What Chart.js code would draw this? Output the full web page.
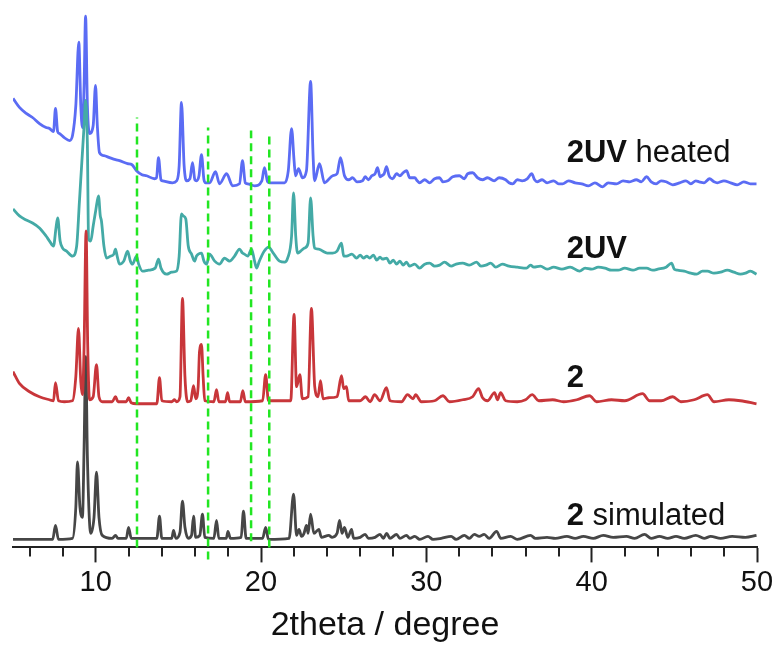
<!DOCTYPE html>
<html>
<head>
<meta charset="utf-8">
<script src="https://cdn.jsdelivr.net/npm/chart.js@4.4.0/dist/chart.umd.min.js"></script>
<style>
  html, body { margin: 0; padding: 0; background: #fff; }
  #wrap { width: 777px; height: 646px; }
</style>
</head>
<body>
<div id="wrap"><canvas id="xrd"></canvas></div>
<script>
// 2theta (degree) vs intensity (offset, arbitrary units)
const heated = [[5.0,447],[5.39,438],[5.8,432],[6.18,428],[6.6,422],[7.0,418],[7.21,417],[7.45,414],[7.57,437],[7.7,414],[7.81,412],[8.1,408],[8.42,405],[8.6,410],[8.8,440],[8.98,503],[9.1,440],[9.2,418],[9.3,460],[9.39,529],[9.5,440],[9.63,412],[9.85,420],[9.99,460],[10.1,420],[10.23,393],[10.5,390],[10.84,388],[11.2,386],[11.44,385],[11.93,382],[12.2,381],[12.47,375],[12.8,371],[13.08,370],[13.56,367],[13.68,368],[13.8,388],[13.95,366],[14.04,365],[14.65,363],[14.9,365],[15.05,380],[15.19,443],[15.35,380],[15.5,365],[15.7,367],[15.86,383],[16.0,366],[16.1,365],[16.25,370],[16.4,391],[16.55,366],[16.65,363],[16.89,363],[17.25,374],[17.49,362],[17.92,372],[18.28,360],[18.7,362],[18.88,385],[19.05,363],[19.19,362],[19.61,360],[20.05,365],[20.21,378],[20.4,364],[20.52,363],[21.12,363],[21.43,363],[21.65,375],[21.85,417],[22.0,385],[22.09,370],[22.27,377],[22.51,368],[22.75,375],[23.0,464],[23.15,390],[23.24,365],[23.54,382],[23.84,363],[24.33,370],[24.6,372],[24.81,388],[25.05,370],[25.3,366],[25.54,368],[25.8,364],[26.14,365],[26.3,369],[26.5,366],[26.7,370],[26.9,372],[27.05,378],[27.2,369],[27.3,370],[27.45,372],[27.59,379],[27.75,370],[27.96,367],[28.2,372],[28.4,370],[28.6,373],[28.8,375],[29.0,368],[29.3,368],[29.45,365],[29.59,363],[29.9,366],[30.2,363],[30.5,367],[30.8,368],[31.0,364],[31.3,365],[31.6,369],[32.0,370],[32.3,367],[32.5,372],[32.8,373],[33.1,368],[33.4,366],[33.7,368],[34.1,365],[34.4,368],[34.8,366],[35.0,363],[35.22,362],[35.5,366],[35.8,365],[36.1,367],[36.37,372],[36.55,366],[36.7,364],[37.0,366],[37.3,363],[37.7,365],[38.0,362],[38.24,362],[38.6,365],[39.0,363],[39.4,362],[39.8,360],[40.2,363],[40.66,359],[41.0,363],[41.5,362],[41.9,365],[42.3,364],[42.7,366],[43.0,364],[43.32,369],[43.6,364],[43.9,362],[44.2,365],[44.5,364],[44.9,361],[45.32,363],[45.7,365],[46.0,362],[46.3,365],[46.5,364],[46.8,363],[47.13,367],[47.4,364],[47.6,363],[48.0,365],[48.4,363],[48.8,361],[49.2,364],[49.6,362],[49.97,362]];

const uv = [[5.0,337],[5.39,330],[5.8,326],[6.18,323],[6.6,318],[7.0,310],[7.21,305],[7.45,300],[7.6,318],[7.7,328],[7.85,305],[8.0,298],[8.24,295],[8.6,290],[8.85,300],[9.02,345],[9.15,380],[9.3,420],[9.39,445],[9.5,400],[9.57,307],[9.7,305],[9.85,320],[10.0,335],[10.17,350],[10.28,330],[10.35,325],[10.5,300],[10.66,288],[10.9,290],[11.1,292],[11.2,297],[11.3,290],[11.44,282],[11.7,285],[11.93,295],[12.1,285],[12.23,282],[12.47,290],[12.6,282],[12.83,275],[13.2,276],[13.6,278],[13.8,287],[13.95,278],[14.29,272],[14.6,274],[14.89,275],[15.05,290],[15.19,332],[15.3,330],[15.45,327],[15.6,300],[15.8,292],[15.98,285],[16.1,290],[16.4,293],[16.55,285],[16.71,282],[16.89,292],[17.2,285],[17.49,282],[17.79,288],[18.1,285],[18.4,290],[18.7,297],[18.88,293],[19.0,292],[19.2,290],[19.43,297],[19.61,285],[19.73,278],[19.9,285],[20.2,295],[20.46,299],[20.7,294],[21.12,285],[21.43,284],[21.61,288],[21.85,310],[21.97,353],[22.1,310],[22.21,293],[22.4,295],[22.63,298],[22.85,303],[23.0,348],[23.15,310],[23.24,298],[23.5,297],[23.72,295],[24.0,293],[24.33,293],[24.6,295],[24.87,303],[25.0,290],[25.17,290],[25.5,292],[25.78,288],[26.0,291],[26.2,288],[26.4,290],[26.57,288],[26.8,291],[27.0,286],[27.2,289],[27.35,287],[27.6,288],[27.8,283],[28.0,286],[28.2,282],[28.4,285],[28.6,281],[28.8,284],[28.98,280],[29.3,282],[29.59,278],[29.9,282],[30.2,283],[30.5,280],[30.8,281],[31.1,284],[31.5,280],[31.8,282],[32.2,283],[32.6,281],[33.04,284],[33.3,280],[33.6,281],[33.9,283],[34.2,279],[34.6,282],[35.0,280],[35.5,279],[36.06,278],[36.3,281],[36.5,279],[36.9,280],[37.3,277],[37.7,279],[38.2,277],[38.7,279],[39.27,275],[39.6,278],[40.0,277],[40.4,279],[40.8,278],[41.2,276],[41.6,276],[42.0,278],[42.5,276],[42.9,278],[43.32,278],[43.7,276],[44.0,277],[44.5,279],[44.83,283],[45.0,277],[45.2,276],[45.6,275],[46.0,273],[46.35,272],[46.7,275],[47.0,275],[47.4,273],[47.8,274],[48.2,276],[48.6,274],[49.0,272],[49.3,273],[49.6,275],[49.97,272]];

const sample = [[5.0,175],[5.4,163],[6.0,155],[6.6,150],[7.2,147],[7.45,146],[7.57,164],[7.75,146],[8.1,145],[8.6,146],[8.8,170],[8.96,218],[9.1,165],[9.2,152],[9.3,200],[9.42,315],[9.52,200],[9.63,147],[9.85,150],[10.05,182],[10.2,150],[10.41,145],[11.0,145],[11.2,150],[11.35,145],[11.85,145],[11.99,149],[12.15,144],[12.47,143],[13.7,143],[13.86,169],[14.0,146],[14.6,145],[14.77,147],[14.9,145],[15.1,150],[15.25,248],[15.4,170],[15.56,145],[15.75,146],[15.92,161],[16.05,148],[16.2,160],[16.28,195],[16.4,202],[16.5,170],[16.6,146],[17.15,145],[17.31,157],[17.45,145],[17.85,145],[17.98,154],[18.1,145],[18.75,145],[18.9,156],[19.05,145],[20.1,146],[20.28,172],[20.45,146],[21.8,146],[22.0,232],[22.15,160],[22.35,172],[22.5,148],[22.85,150],[23.05,238],[23.25,160],[23.45,150],[23.6,166],[23.75,148],[24.09,149],[24.6,150],[24.87,171],[25.0,158],[25.17,160],[25.3,146],[26.0,146],[26.32,150],[26.6,145],[26.87,152],[27.2,146],[27.59,159],[27.8,146],[28.5,145],[28.86,152],[29.2,148],[29.35,152],[29.7,145],[30.5,146],[31.0,151],[31.4,145],[32.2,147],[32.8,150],[33.16,158],[33.4,149],[33.7,146],[34.13,154],[34.3,147],[34.49,154],[34.8,146],[35.5,145],[36.0,147],[36.4,152],[36.8,146],[37.64,147],[38.3,145],[39.1,147],[39.87,151],[40.3,145],[41.2,147],[42.0,146],[43.08,153],[43.5,146],[44.2,146],[44.9,150],[45.4,145],[46.2,147],[47.0,152],[47.4,145],[48.3,147],[49.0,146],[49.97,143]];

const simulated = [[5.0,8],[7.4,8],[7.57,22],[7.75,8],[8.6,9],[8.8,40],[8.9,85],[9.05,40],[9.2,30],[9.3,100],[9.4,190],[9.5,90],[9.7,14],[9.9,30],[10.05,75],[10.2,30],[10.4,12],[11.0,9],[11.2,12],[11.35,9],[11.85,9],[11.99,20],[12.15,9],[13.7,9],[13.86,31],[14.0,9],[14.6,9],[14.71,17],[14.85,9],[15.1,15],[15.25,46],[15.4,20],[15.6,9],[15.8,12],[15.92,31],[16.05,10],[16.3,12],[16.46,33],[16.6,10],[17.15,9],[17.31,27],[17.45,9],[17.9,9],[18.0,16],[18.15,9],[18.8,10],[18.94,36],[19.1,9],[20.1,9],[20.28,20],[20.45,8],[21.7,9],[21.97,53],[22.15,12],[22.3,18],[22.45,11],[22.6,14],[22.75,22],[22.85,14],[23.0,33],[23.2,14],[23.5,18],[23.65,10],[24.1,12],[24.3,10],[24.6,14],[24.75,27],[24.9,14],[25.05,20],[25.25,10],[25.48,18],[25.6,9],[26.0,10],[26.3,13],[26.5,9],[26.9,10],[27.2,13],[27.4,9],[27.6,14],[27.8,9],[28.2,13],[28.4,9],[28.8,12],[29.0,9],[29.3,11],[29.6,8],[30.1,11],[30.4,8],[30.9,9],[31.5,11],[31.8,8],[32.3,12],[32.6,9],[32.9,13],[33.2,11],[33.5,13],[33.8,9],[34.25,16],[34.5,9],[35.1,11],[35.5,8],[36.3,12],[36.6,9],[37.3,10],[37.8,9],[38.5,11],[39.0,9],[39.5,11],[40.1,9],[40.7,12],[41.3,10],[42.1,11],[42.6,9],[43.2,13],[43.6,9],[44.1,11],[44.6,9],[45.1,11],[45.6,9],[46.3,12],[46.8,9],[47.2,11],[47.8,9],[48.5,11],[49.3,10],[49.97,12]];

// green reference lines
const markerX = [12.5, 16.8, 19.4, 20.5];
const markerTop = [428, 418, 415, 413];
const markerBottom = [0, -12, 6, 0];

const majorTicks = [10, 20, 30, 40, 50];
const minorTicks = [6, 8, 12, 14, 16, 18, 22, 24, 26, 28, 32, 34, 36, 38, 42, 44, 46, 48];

const labelBold = ['2UV', '2UV', '2', '2'];
const labelRest = [' heated', '', '', ' simulated'];
const labelY = [384, 288, 160, 22];
const labelX = 38.49;

const FONT = "'Liberation Sans', Arial, sans-serif";
const toXY = arr => arr.map(p => ({ x: p[0], y: p[1] }));

const datasets = [];
markerX.forEach((x, i) => {
    datasets.push({
        data: [{ x: x, y: markerBottom[i] }, { x: x, y: markerTop[i] }],
        borderColor: '#22e622',
        borderWidth: 2.5,
        borderDash: [8, 5],
        pointRadius: 0,
        clip: false,
        order: 0
    });
});
const curve = (arr, color, order) => ({
    data: toXY(arr), borderColor: color, borderWidth: 2.8, pointRadius: 0,
    cubicInterpolationMode: 'monotone', borderJoinStyle: 'round', order: order
});
datasets.push(curve(simulated, '#464646', 2));
datasets.push(curve(sample, '#c8363a', 1));
datasets.push(curve(uv, '#44aaa6', 3));
datasets.push(curve(heated, '#5b6cf4', 4));

// minor ticks and curve labels
const extras = {
    id: 'extras',
    afterDraw(chart) {
        const ctx = chart.ctx;
        const xs = chart.scales.x, ys = chart.scales.y;
        const bottom = chart.chartArea.bottom;
        ctx.save();
        ctx.strokeStyle = '#222';
        ctx.lineWidth = 2;
        minorTicks.forEach(v => {
            const px = Math.round(xs.getPixelForValue(v));
            ctx.beginPath();
            ctx.moveTo(px, bottom);
            ctx.lineTo(px, bottom + 9);
            ctx.stroke();
        });
        ctx.fillStyle = '#111';
        ctx.textBaseline = 'alphabetic';
        labelBold.forEach((b, i) => {
            let px = xs.getPixelForValue(labelX);
            const py = ys.getPixelForValue(labelY[i]);
            ctx.font = 'bold 31px ' + FONT;
            ctx.fillText(b, px, py);
            px += ctx.measureText(b).width;
            ctx.font = '31px ' + FONT;
            ctx.fillText(labelRest[i], px, py);
        });
        ctx.restore();
    }
};

new Chart(document.getElementById('xrd'), {
    type: 'line',
    data: { datasets: datasets },
    options: {
        responsive: true,
        maintainAspectRatio: false,
        animation: false,
        parsing: false,
        layout: { padding: { left: 13, right: 20, top: 5, bottom: 0 } },
        plugins: { legend: { display: false }, tooltip: { enabled: false } },
        scales: {
            x: {
                type: 'linear',
                min: 5,
                max: 50,
                afterBuildTicks: s => { s.ticks = majorTicks.map(v => ({ value: v })); },
                border: { color: '#222', width: 2 },
                grid: { drawOnChartArea: false, tickLength: 15, tickWidth: 2, tickColor: '#222' },
                ticks: { color: '#111', padding: 3, font: { family: FONT, size: 29 }, maxRotation: 0 },
                title: {
                    display: true,
                    text: '2theta / degree',
                    color: '#111',
                    font: { family: FONT, size: 34 },
                    padding: { top: 2, bottom: 0 }
                }
            },
            y: { type: 'linear', min: 0, max: 540, display: false }
        }
    },
    plugins: [extras]
});
</script>
</body>
</html>
